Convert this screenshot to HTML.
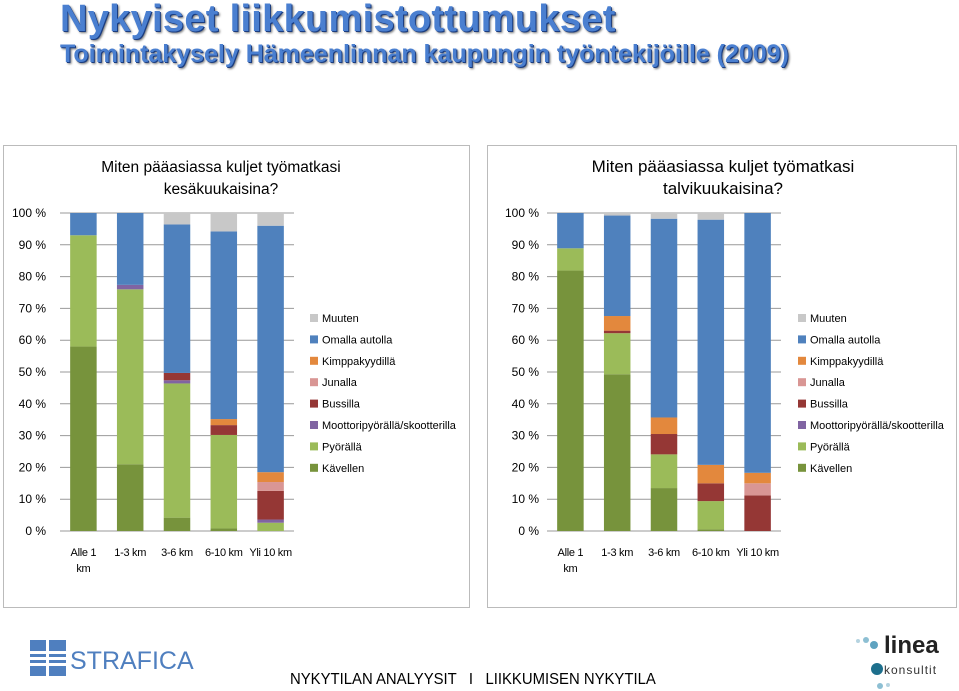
<!DOCTYPE html>
<html><head><meta charset="utf-8">
<style>
body{margin:0;width:959px;height:691px;background:#fff;overflow:hidden;font-family:"Liberation Sans",sans-serif;position:relative}
.t1{position:absolute;left:60px;top:-3px;font-size:38px;font-weight:bold;color:#4a7fd0;text-shadow:1px 1px 0 #1b3d80,2px 2px 2px #777;letter-spacing:0.3px;white-space:nowrap;line-height:44px}
.t2{position:absolute;left:60px;top:39px;font-size:25px;font-weight:bold;color:#4a7fd0;text-shadow:1px 1px 0 #1b3d80,2px 2px 2px #777;white-space:nowrap;line-height:30px}
.foot{position:absolute;left:290px;top:671px;font-size:16px;color:#000;transform:scaleX(0.93);transform-origin:left top;white-space:nowrap}
</style></head><body>
<div class="t1">Nykyiset liikkumistottumukset</div>
<div class="t2">Toimintakysely Hämeenlinnan kaupungin työntekijöille (2009)</div>
<svg id="svg" width="959" height="691" style="position:absolute;left:0;top:0" xmlns="http://www.w3.org/2000/svg">
<rect x="3.5" y="145.5" width="466" height="462" fill="none" stroke="#bbb"/>
<rect x="487.5" y="145.5" width="469" height="462" fill="none" stroke="#bbb"/>
<g id="g"></g>
<g>
<rect x="30" y="640" width="36" height="36" fill="#4f7fbf"/>
<rect x="30" y="651" width="36" height="3" fill="#fff"/><rect x="30" y="657" width="36" height="3" fill="#fff"/><rect x="30" y="663" width="36" height="3" fill="#fff"/>
<rect x="46" y="640" width="3" height="36" fill="#fff"/>
<text x="70" y="669" font-size="25" fill="#4f7fbf" font-family="Liberation Sans">STRAFICA</text>
</g>
<g>
<circle cx="858" cy="641" r="2" fill="#b5d3e0"/><circle cx="866" cy="640" r="3" fill="#8dbfd3"/><circle cx="874" cy="645" r="4" fill="#5fa3c0"/>
<circle cx="877" cy="669" r="6" fill="#1d6f8c"/><circle cx="880" cy="686" r="3" fill="#8dbfd3"/><circle cx="888" cy="685" r="2" fill="#b5d3e0"/>
<text x="884" y="653" font-size="24" font-weight="bold" fill="#222">linea</text>
<text x="884" y="674" font-size="12" fill="#333" letter-spacing="1">konsultit</text>
</g>
</svg>
<div class="foot">NYKYTILAN ANALYYSIT &nbsp;&nbsp;I&nbsp;&nbsp; LIIKKUMISEN NYKYTILA</div>
<script>
const categories=["Alle 1 km","1-3 km","3-6 km","6-10 km","Yli 10 km"];
const seriesNames=["Kävellen","Pyörällä","Moottoripyörällä/skootterilla","Bussilla","Junalla","Kimppakyydillä","Omalla autolla","Muuten"];
const seriesColors=["#77933c","#9bbb59","#8064a2","#953735","#d99694","#e3883d","#4f81bd","#c8c8c8"];
const yTicks=[0,10,20,30,40,50,60,70,80,90,100];
const summer=[
 [58,35,0,0,0,0,7,0],
 [21,55,1.4,0,0,0,22.6,0],
 [4.2,42.2,1,2.3,0,0,46.7,3.6],
 [0.8,29.4,0,3.1,0,1.9,59,5.8],
 [0,2.6,1,9,2.8,3.1,77.5,4]
];
const winter=[
 [81.9,7,0,0,0,0,11.1,0],
 [49.3,12.9,0,0.8,0,4.6,31.6,0.8],
 [13.5,10.6,0,6.4,0,5.2,62.5,1.8],
 [0.5,8.9,0,5.6,0,5.8,77.1,2.1],
 [0,0,0,11.2,3.8,3.3,81.7,0]
];
const NS="http://www.w3.org/2000/svg";
const g=document.getElementById('g');
function el(t,a,txt){const e=document.createElementNS(NS,t);for(const k in a)e.setAttribute(k,a[k]);if(txt!==undefined)e.textContent=txt;g.appendChild(e);return e;}
function chart(data,px,pw,labX,title,tx,tfs,legX,prefix){
 const y0=531,y1=213;
 const yS=v=>y0-(v/100)*(y0-y1);
 const step=pw/categories.length,bw=26.5;
 yTicks.forEach(v=>{
  const l=el('line',{x1:px,x2:px+pw,y1:yS(v),y2:yS(v),stroke:'#999','stroke-width':1});
  
  const t=el('text',{x:labX,y:yS(v)+4,'font-size':12,'text-anchor':'end',fill:'#000'},v+' %');
  
 });
 data.forEach((row,i)=>{
  const x=px+step*i+(step-bw)/2;let cum=0;
  row.forEach((v,s)=>{
   if(v>0){const r=el('rect',{x:x,y:yS(cum+v),width:bw,height:yS(cum)-yS(cum+v),fill:seriesColors[s]});
   }
   cum+=v;
  });
  const cx=px+step*i+step/2;const parts=categories[i]==="Alle 1 km"?["Alle 1","km"]:[categories[i]];
  parts.forEach((p,j)=>{const t=el('text',{x:cx,y:556+j*16,'font-size':11,'text-anchor':'middle','letter-spacing':'-0.3'},p);
  });
 });
 title.forEach((s,j)=>{const t=el('text',{x:tx,y:172+j*22,'font-size':tfs,'text-anchor':'middle'},s);
 });
 for(let s=seriesNames.length-1,k=0;s>=0;s--,k++){
  const yy=318+k*21.4;
  const r=el('rect',{x:legX,y:yy-4,width:8,height:8,fill:seriesColors[s]});
  
  const t=el('text',{x:legX+12,y:yy+4,'font-size':11},seriesNames[s]);
  
 }
}
chart(summer,60,234,46,["Miten pääasiassa kuljet työmatkasi","kesäkuukaisina?"],221,15.5,310,'summer');
chart(winter,547,234,539,["Miten pääasiassa kuljet työmatkasi","talvikuukaisina?"],723,17,798,'winter');
</script>
</body></html>
